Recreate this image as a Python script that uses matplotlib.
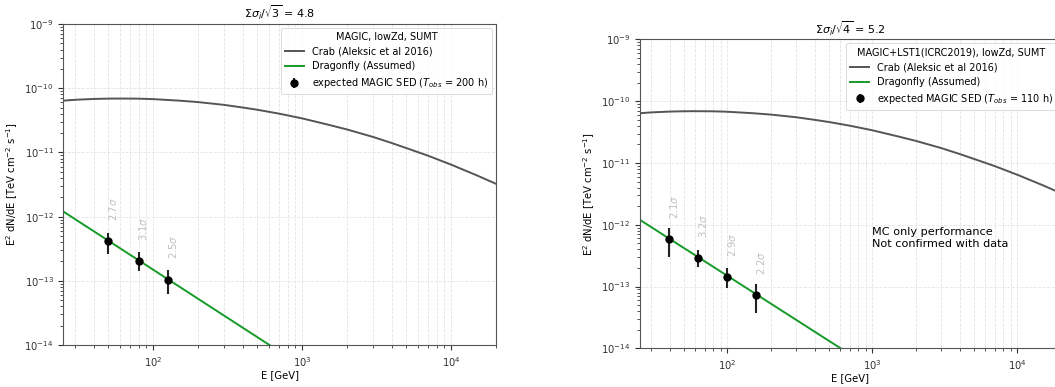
import numpy as np
import matplotlib
matplotlib.use("Agg")
import matplotlib.pyplot as plt
import matplotlib.ticker as ticker

# Crab (Aleksic et al 2016): E [GeV], E^2 dN/dE
crab_E = [25, 30, 40, 50, 60, 80, 100, 150, 200, 300, 400, 500, 700, 1000, 1500,
          2000, 3000, 4000, 5000, 7000, 10000, 15000, 20000]
crab_F = [6.4e-11, 6.6e-11, 6.8e-11, 6.88e-11, 6.9e-11, 6.87e-11, 6.76e-11, 6.4e-11,
          6.08e-11, 5.5e-11, 5.0e-11, 4.62e-11, 4.02e-11, 3.39e-11, 2.7e-11,
          2.28e-11, 1.74e-11, 1.40e-11, 1.17e-11, 8.9e-12, 6.46e-12, 4.36e-12, 3.25e-12]

# Dragonfly (Assumed), straight line in log-log
dfly_E = [25, 1000]
dfly_F = [1.2e-12, 4.7e-15]

# MAGIC, 200 h
magic_E = [50, 80, 127]
magic_F = [4.1e-13, 2.0e-13, 1.03e-13]
magic_hi = [5.5e-13, 2.8e-13, 1.47e-13]
magic_lo = [2.6e-13, 1.44e-13, 6.2e-14]
magic_sig = ["2.7", "3.1", "2.5"]

# MAGIC+LST1, 110 h
lst_E = [39.8, 63.1, 100, 158.5]
lst_F = [5.8e-13, 2.92e-13, 1.44e-13, 7.4e-14]
lst_hi = [8.8e-13, 3.9e-13, 2.0e-13, 1.1e-13]
lst_lo = [3.0e-13, 2.04e-13, 9.3e-14, 3.7e-14]
lst_sig = ["2.1", "3.2", "2.9", "2.2"]

fs = 7.2
plt.rcParams['font.size'] = fs
plt.rcParams['axes.edgecolor'] = '#555555'

fig = plt.figure(figsize=(10.55, 3.87), dpi=100)
ax1 = fig.add_axes([0.060, 0.1085, 0.410, 0.8295])
ax2 = fig.add_axes([0.6066, 0.100, 0.399, 0.798])


def panel(ax, E, F, hi, lo, sig, tobs, title, legtitle):
    ax.plot(crab_E, crab_F, color='#555555', lw=1.4, label='Crab (Aleksic et al 2016)')
    ax.plot(dfly_E, dfly_F, color='#159a28', lw=1.4, label='Dragonfly (Assumed)')
    E = np.array(E)
    F = np.array(F)
    yerr = [F - np.array(lo), np.array(hi) - F]
    ax.errorbar(E, F, yerr=yerr, fmt='o', color='black', ecolor='#222222',
                ms=5, elinewidth=1.5,
                label=r'expected MAGIC SED ($T_{obs}$ = %d h)' % tobs)
    for e, f, s in zip(E, F, sig):
        ax.text(e * 1.07, f * 2.1, s + r'$\sigma$', rotation=90, ha='center',
                va='bottom', color='#c0c0c0', fontsize=fs)
    ax.set_xscale('log')
    ax.set_yscale('log')
    ax.set_xlim(25, 20000)
    ax.set_ylim(1e-14, 1e-9)
    ax.xaxis.set_minor_formatter(ticker.NullFormatter())
    ax.yaxis.set_minor_formatter(ticker.NullFormatter())
    ax.grid(True, which='both', axis='x', ls='--', color='#e4e4e4', lw=0.6)
    ax.grid(True, which='major', axis='y', ls='--', color='#e4e4e4', lw=0.6)
    ax.set_xlabel('E [GeV]', labelpad=1)
    ax.set_ylabel(r'E$^2$ dN/dE [TeV cm$^{-2}$ s$^{-1}$]', labelpad=3)
    ax.set_title(title, fontsize=8, pad=4)
    ax.tick_params(which='both', colors='#333333', labelsize=fs)
    leg = ax.legend(title=legtitle, loc='upper right', fontsize=7.0,
                    title_fontsize=7.0, borderaxespad=0.4)
    leg.get_frame().set_linewidth(0.6)


panel(ax1, magic_E, magic_F, magic_hi, magic_lo, magic_sig, 200,
      r'$\Sigma\sigma_i/\sqrt{3}$ = 4.8', 'MAGIC, lowZd, SUMT')
panel(ax2, lst_E, lst_F, lst_hi, lst_lo, lst_sig, 110,
      r'$\Sigma\sigma_i/\sqrt{4}$ = 5.2', 'MAGIC+LST1(ICRC2019), lowZd, SUMT')
ax2.text(1000, 6.1e-13, 'MC only performance\nNot confirmed with data',
         fontsize=8.1, va='center', ha='left')

fig.savefig('out.png', dpi=100)
